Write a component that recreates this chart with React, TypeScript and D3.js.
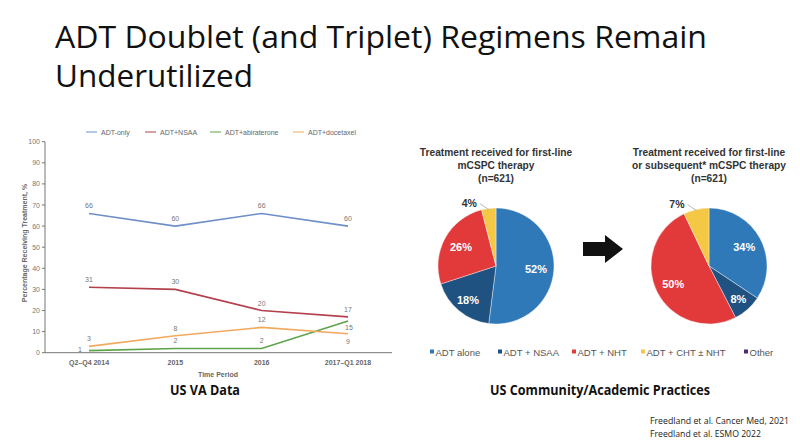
import React from "react";
import * as d3 from "d3";

// ---------- Data ----------
const periods = ["Q2–Q4 2014", "2015", "2016", "2017–Q1 2018"];
const seriesNames = ["ADT-only", "ADT+NSAA", "ADT+abiraterone", "ADT+docetaxel"];
const adtOnly = [66, 60, 66, 60];
const adtNsaa = [31, 30, 20, 17];
const adtAbiraterone = [1, 2, 2, 15];
const adtDocetaxel = [3, 8, 12, 9];
const yTicks = [0, 10, 20, 30, 40, 50, 60, 70, 80, 90, 100];

const pieCategories = ["ADT alone", "ADT + NSAA", "ADT + NHT", "ADT + CHT ± NHT", "Other"];
const firstLine = [52, 18, 26, 4, 0];
const subsequent = [34, 8, 50, 7, 0];

// ---------- Styles ----------
const lineColors = ["#6f8fc8", "#b3404d", "#5ea34c", "#f2a95e"];
// label placement per series per point
const labelPlace = [
  ["above", "above", "above", "above"],
  ["above", "above", "above", "above"],
  ["left", "above", "above", "belowRight"],
  ["above", "above", "above", "below"],
];
const pieColors = ["#2f79b9", "#1f5181", "#e2393a", "#f4c744", "#4a2d6e"];
const sans = "'Liberation Sans', Arial, sans-serif";
const titleFont = "'Open Sans', 'Liberation Sans', sans-serif";

export default function App() {
  const series = [adtOnly, adtNsaa, adtAbiraterone, adtDocetaxel];
  const x = d3.scalePoint<string>().domain(periods).range([89, 348]);
  const y = d3.scaleLinear().domain([0, 100]).range([352.7, 141.7]);
  const line = d3
    .line<number>()
    .x((_, i) => x(periods[i]) as number)
    .y((d) => y(d));

  const pieGen = d3
    .pie<number>()
    .sort(null)
    .value((d) => d);
  const R = 58;
  const arcGen = d3.arc<d3.PieArcDatum<number>>().innerRadius(0).outerRadius(R);

  const pies = [
    { data: firstLine, cx: 496, cy: 266, title: ["Treatment received for first-line", "mCSPC therapy", "(n=621)"] },
    { data: subsequent, cx: 709, cy: 266, title: ["Treatment received for first-line", "or subsequent* mCSPC therapy", "(n=621)"] },
  ];

  const legendX = [86, 145, 210, 293];
  const pieLegendX = [430, 498, 572, 641, 744];

  return (
    <svg
      width={800}
      height={445}
      style={{ position: "fixed", left: 0, top: 0, background: "#fff" }}
    >
      <rect x={0} y={0} width={800} height={445} fill="#fff" />
      {/* Title */}
      <text x={55} y={48} fontFamily={titleFont} fontSize={31} fill="#111" textLength={652} lengthAdjust="spacingAndGlyphs">
        ADT Doublet (and Triplet) Regimens Remain
      </text>
      <text x={55} y={87} fontFamily={titleFont} fontSize={31} fill="#111" textLength={198} lengthAdjust="spacingAndGlyphs">
        Underutilized
      </text>

      {/* Line chart legend */}
      {seriesNames.map((n, i) => (
        <g key={n}>
          <line x1={legendX[i]} x2={legendX[i] + 11} y1={132} y2={132} stroke={lineColors[i]} strokeWidth={1} />
          <text x={legendX[i] + 15} y={134.5} fontFamily={sans} fontSize={7} fill="#666">
            {n}
          </text>
        </g>
      ))}

      {/* Axes */}
      <line x1={45} x2={45} y1={y(100)} y2={y(0)} stroke="#777" strokeWidth={1} />
      <line x1={45} x2={392} y1={y(0)} y2={y(0)} stroke="#777" strokeWidth={1} />
      {yTicks.map((t) => (
        <g key={t}>
          <line x1={42} x2={45} y1={y(t)} y2={y(t)} stroke="#777" />
          <text x={40} y={y(t) + 2.5} textAnchor="end" fontFamily={sans} fontSize={7} fill="#777">
            {t}
          </text>
        </g>
      ))}
      {periods.map((p) => (
        <text key={p} x={x(p)} y={365} textAnchor="middle" fontFamily={sans} fontSize={7} fontWeight="bold" fill="#666">
          {p}
        </text>
      ))}
      <text x={218} y={377} textAnchor="middle" fontFamily={sans} fontSize={7} fontWeight="bold" fill="#666">
        Time Period
      </text>
      <text
        transform="translate(27,243) rotate(-90)"
        textAnchor="middle"
        fontFamily={sans}
        fontSize={7}
        fontWeight="bold"
        fill="#666"
      >
        Percentage Receiving Treatment, %
      </text>

      {/* Lines */}
      {series.map((s, i) => (
        <path key={i} d={line(s) as string} fill="none" stroke={lineColors[i]} strokeWidth={1.6} />
      ))}
      {series.map((s, i) =>
        s.map((v, j) => {
          const px = x(periods[j]) as number;
          const py = y(v);
          const place = labelPlace[i][j];
          let tx = px;
          let ty = py - 5;
          let anchor: "middle" | "end" | "start" = "middle";
          if (place === "left") {
            tx = px - 7;
            ty = py + 1;
            anchor = "end";
          } else if (place === "below") {
            ty = py + 10;
          } else if (place === "belowRight") {
            tx = px + 1;
            ty = py + 9;
          }
          return (
            <text key={`${i}-${j}`} x={tx} y={ty} textAnchor={anchor} fontFamily={sans} fontSize={7} fill="#777">
              {v}
            </text>
          );
        })
      )}

      <text x={205} y={395} textAnchor="middle" fontFamily={titleFont} fontSize={15} fontWeight="bold" fill="#111" textLength={70} lengthAdjust="spacingAndGlyphs">
        US VA Data
      </text>

      {/* Pies */}
      {pies.map((p, pi) => {
        const arcs = pieGen(p.data);
        return (
          <g key={pi}>
            {p.title.map((t, k) => (
              <text key={k} x={p.cx} y={156 + k * 13} textAnchor="middle" fontFamily={sans} fontSize={10.2} fontWeight="bold" fill="#333">
                {t}
              </text>
            ))}
            <g transform={`translate(${p.cx},${p.cy})`}>
              {arcs.map((a, k) =>
                a.data > 0 ? (
                  <path key={k} d={arcGen(a) as string} fill={pieColors[k]} stroke="#fff" strokeWidth={0.4} />
                ) : null
              )}
              {arcs.map((a, k) => {
                if (a.data <= 0) return null;
                const mid = (a.startAngle + a.endAngle) / 2;
                const pct = a.data;
                if (pct < 8) {
                  const x1 = Math.sin(mid) * R * 0.98;
                  const y1 = -Math.cos(mid) * R * 0.98;
                  const x2 = x1 - 9;
                  const y2 = y1 - 6;
                  return (
                    <g key={`l${k}`}>
                      <line x1={x1} y1={y1} x2={x2} y2={y2} stroke="#aaa" strokeWidth={0.8} />
                      <text x={x2 - 3} y={y2 + 3} textAnchor="end" fontFamily={sans} fontSize={10.5} fontWeight="bold" fill="#333">
                        {pct}%
                      </text>
                    </g>
                  );
                }
                const rr = pct <= 18 ? R * 0.76 : R * 0.69;
                return (
                  <text
                    key={`l${k}`}
                    x={Math.sin(mid) * rr}
                    y={-Math.cos(mid) * rr + 4}
                    textAnchor="middle"
                    fontFamily={sans}
                    fontSize={11}
                    fontWeight="bold"
                    fill="#fff"
                  >
                    {pct}%
                  </text>
                );
              })}
            </g>
          </g>
        );
      })}

      {/* Arrow */}
      <path d="M583,242 L605,242 L605,235 L623,249 L605,263 L605,256 L583,256 Z" fill="#111" />

      {/* Pie legend */}
      {pieCategories.map((c, i) => (
        <g key={c}>
          <rect x={pieLegendX[i]} y={349.5} width={4} height={4} fill={pieColors[i]} />
          <text x={pieLegendX[i] + 5.5} y={356} fontFamily={sans} fontSize={9.5} fill="#555">
            {c}
          </text>
        </g>
      ))}

      <text x={600} y={395} textAnchor="middle" fontFamily={titleFont} fontSize={14} fontWeight="bold" fill="#111" textLength={220} lengthAdjust="spacingAndGlyphs">
        US Community/Academic Practices
      </text>

      {/* Citations */}
      <text x={650} y={424} fontFamily={titleFont} fontSize={9.5} fill="#222" textLength={139} lengthAdjust="spacingAndGlyphs">
        Freedland et al. Cancer Med, 2021
      </text>
      <text x={650} y={437} fontFamily={titleFont} fontSize={9.5} fill="#222" textLength={111} lengthAdjust="spacingAndGlyphs">
        Freedland et al. ESMO 2022
      </text>
    </svg>
  );
}
